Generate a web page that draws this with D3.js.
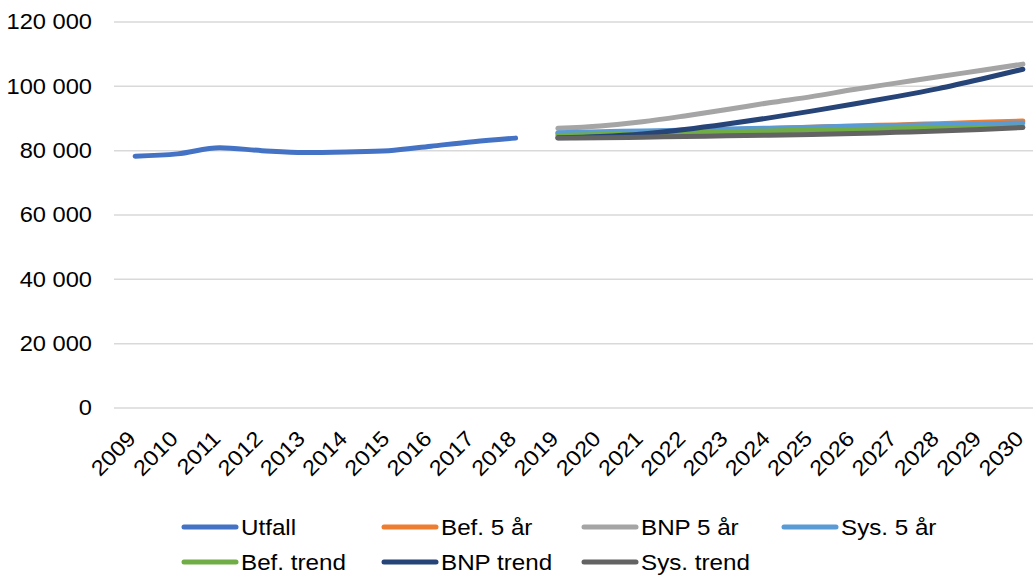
<!DOCTYPE html>
<html>
<head>
<meta charset="utf-8">
<script src="https://cdn.jsdelivr.net/npm/d3@7/dist/d3.min.js"></script>
<style>
  html, body { margin: 0; padding: 0; background: #ffffff; }
  svg { display: block; font-family: "Liberation Sans", Arial, sans-serif; }
</style>
</head>
<body>
<svg id="chart" width="1033" height="577"></svg>
<script>
// Years on the category axis
const years = [2009, 2010, 2011, 2012, 2013, 2014, 2015, 2016, 2017, 2018, 2019,
               2020, 2021, 2022, 2023, 2024, 2025, 2026, 2027, 2028, 2029, 2030];

// Outcome 2009–2018
const utfallYears = [2009, 2010, 2011, 2012, 2013, 2014, 2015, 2016, 2017, 2018];
const utfall = [78300, 79000, 80900, 80000, 79400, 79600, 80000, 81400, 82800, 83900];

// Projections 2019–2030
const prognosYears = [2019, 2020, 2021, 2022, 2023, 2024, 2025, 2026, 2027, 2028, 2029, 2030];
const bef5 = [85300, 85600, 85900, 86200, 86500, 86900, 87300, 87700, 88000, 88400, 88800, 89200];
const bnp5 = [86950, 87700, 89000, 90800, 92800, 94900, 96800, 99000, 101000, 103000, 104900, 106900];
const sys5 = [85600, 85900, 86100, 86400, 86700, 87000, 87300, 87600, 87800, 88100, 88300, 88600];
const befTrend = [84700, 85000, 85300, 85600, 85900, 86100, 86400, 86600, 86800, 87000, 87200, 87300];
const bnpTrend = [84000, 84400, 85200, 86600, 88300, 90200, 92300, 94500, 96800, 99300, 102200, 105300];
const sysTrend = [83900, 84000, 84200, 84400, 84600, 84800, 85000, 85300, 85700, 86100, 86600, 87200];

const yTicks = [0, 20000, 40000, 60000, 80000, 100000, 120000];

const seriesNames = ["Utfall", "Bef. 5 år", "BNP 5 år", "Sys. 5 år", "Bef. trend", "BNP trend", "Sys. trend"];
const seriesColors = ["#4472C4", "#ED7D31", "#A5A5A5", "#5B9BD5", "#70AD47", "#264478", "#636363"];

const series = [
  { name: seriesNames[0], years: utfallYears, values: utfall },
  { name: seriesNames[1], years: prognosYears, values: bef5 },
  { name: seriesNames[2], years: prognosYears, values: bnp5 },
  { name: seriesNames[3], years: prognosYears, values: sys5 },
  { name: seriesNames[4], years: prognosYears, values: befTrend },
  { name: seriesNames[5], years: prognosYears, values: bnpTrend },
  { name: seriesNames[6], years: prognosYears, values: sysTrend }
];

const svg = d3.select("#chart");
const plot = { left: 114, right: 1044, top: 22, bottom: 408 };
const textStretch = 1.1;   // glyphs are drawn slightly wide

const x = d3.scaleBand().domain(years).range([plot.left, plot.right]);
const y = d3.scaleLinear().domain([0, 120000]).range([plot.bottom, plot.top]);
const cx = d => x(d) + x.bandwidth() / 2;

const fmt = v => d3.format(",")(v).replace(/,/g, " ");

// Horizontal gridlines
svg.append("g")
  .selectAll("line")
  .data(yTicks)
  .join("line")
  .attr("x1", plot.left)
  .attr("x2", plot.right)
  .attr("y1", d => y(d))
  .attr("y2", d => y(d))
  .attr("stroke", "#D9D9D9")
  .attr("stroke-width", 1.5);

// Value axis labels
const yAxis = d3.axisLeft(y).tickValues(yTicks).tickFormat(fmt).tickSize(0).tickPadding(0);
const yG = svg.append("g").attr("transform", `translate(92,0)`).call(yAxis);
yG.select(".domain").remove();
yG.selectAll("text")
  .attr("font-size", 21.5)
  .attr("fill", "#000")
  .attr("font-family", "Liberation Sans, Arial, sans-serif")
  .attr("transform", `scale(${textStretch},1)`);

// Category axis labels, rotated
const xAxis = d3.axisBottom(x).tickSize(0).tickPadding(0);
const xG = svg.append("g").attr("transform", `translate(0,${plot.bottom})`).call(xAxis);
xG.select(".domain").remove();
xG.selectAll("text")
  .attr("font-size", 21.5)
  .attr("fill", "#000")
  .attr("font-family", "Liberation Sans, Arial, sans-serif")
  .attr("text-anchor", "end")
  .attr("dy", null)
  .attr("y", 0)
  .attr("transform", `translate(2,32) rotate(-45) scale(${textStretch},1)`);

// Series lines
const line = d3.line()
  .x(d => cx(d[0]))
  .y(d => y(d[1]))
  .curve(d3.curveMonotoneX);

svg.append("g")
  .selectAll("path")
  .data(series)
  .join("path")
  .attr("d", s => line(s.years.map((yr, i) => [yr, s.values[i]])))
  .attr("fill", "none")
  .attr("stroke", (s, i) => seriesColors[i])
  .attr("stroke-width", 5)
  .attr("stroke-linecap", "round")
  .attr("stroke-linejoin", "round");

// Legend, two rows of four columns
const legend = svg.append("g")
  .selectAll("g")
  .data(seriesNames)
  .join("g")
  .attr("transform", (d, i) => `translate(${182 + (i % 4) * 200},${527 + Math.floor(i / 4) * 35})`);

legend.append("line")
  .attr("x1", 2).attr("x2", 54)
  .attr("y1", 0).attr("y2", 0)
  .attr("stroke", (d, i) => seriesColors[i])
  .attr("stroke-width", 5)
  .attr("stroke-linecap", "round");

legend.append("text")
  .attr("x", 0)
  .attr("y", 0)
  .attr("transform", `translate(59,0) scale(${textStretch},1)`)
  .attr("dominant-baseline", "central")
  .attr("font-size", 22)
  .attr("fill", "#000")
  .text(d => d);
</script>
</body>
</html>
